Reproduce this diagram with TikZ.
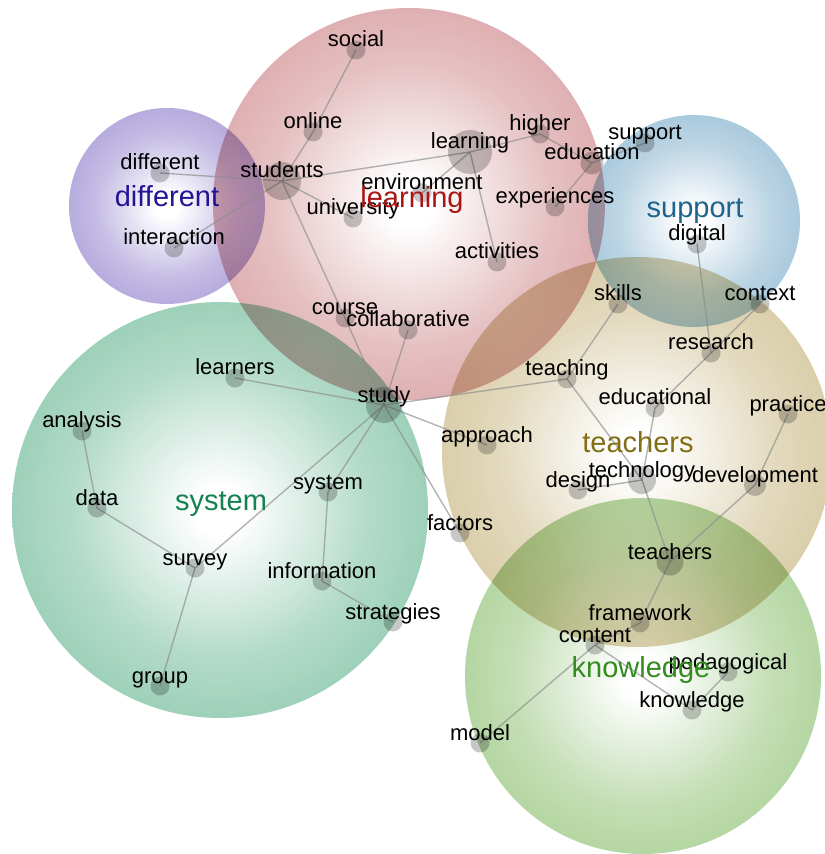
\documentclass[tikz,border=0pt]{standalone}
\usepackage{fontspec}
\setmainfont{Liberation Sans}

\pgfdeclarelayer{bubbles}
\pgfdeclarelayer{links}
\pgfsetlayers{bubbles,links,main}

\definecolor{diffc}{RGB}{122,102,194}
\definecolor{learnc}{RGB}{196,110,114}
\definecolor{suppc}{RGB}{100,158,194}
\definecolor{teachc}{RGB}{188,166,100}
\definecolor{sysc}{RGB}{76,170,128}
\definecolor{knowc}{RGB}{118,180,84}
\definecolor{diffT}{RGB}{35,20,150}
\definecolor{learnT}{RGB}{170,20,20}
\definecolor{suppT}{RGB}{30,100,140}
\definecolor{teachT}{RGB}{130,110,20}
\definecolor{sysT}{RGB}{20,130,80}
\definecolor{knowT}{RGB}{50,140,30}

\colorlet{bubblecol}{white}
\pgfdeclareradialshading[bubblecol]{bubble}{\pgfpoint{0bp}{0bp}}{color(0bp)=(white); color(3bp)=(white); color(18bp)=(bubblecol!50!white); color(36bp)=(bubblecol!85!white); color(50bp)=(bubblecol)}

\begin{document}
\begin{tikzpicture}
        [x=0.5pt,y=-0.5pt]
            \tikzstyle{dot}=[circle, fill=black, fill opacity=0.22,
        inner sep=0pt, minimum size=9.5pt]
            \tikzstyle{wordlbl}=[font=\fontsize{11}{13}\selectfont, fill=none,
        opacity=1, text=black, inner sep=0pt, text height=8pt, text depth=0pt, yshift=5.5pt]
            \tikzstyle{topic}=[anchor=base, inner sep=0pt, font=\fontsize{14.5}{17}\selectfont]
            \tikzstyle{link}=[draw=black!45, line width=0.7pt, opacity=0.65]
        \useasboundingbox (0,0) rectangle (824,854);

        %-----learning
         \node[dot, label={[wordlbl]center:social}]  (social) at (356,50) {};
         \node[dot, label={[wordlbl]center:online}]  (online) at (313,132) {};
         \node[dot, minimum size=19pt, label={[wordlbl]center:students}]  (students) at (282,181) {};
         \node[dot, label={[wordlbl]center:university}]  (university) at (353,218) {};
         \node[dot, label={[wordlbl]center:environment}]  (environment) at (422,193) {};
         \node[dot, minimum size=22pt, label={[wordlbl]center:learning}]  (learning) at (470,152) {};
         \node[dot, label={[wordlbl]center:higher}]  (higher) at (540,134) {};
         \node[dot, minimum size=11.5pt, label={[wordlbl]center:education}]  (education) at (592,163) {};
         \node[dot, label={[wordlbl]center:experiences}]  (experiences) at (555,207) {};
         \node[dot, label={[wordlbl]center:activities}]  (activities) at (497,262) {};
         \node[dot, label={[wordlbl]center:course}]  (course) at (345,318) {};
         \node[dot, label={[wordlbl]center:collaborative}]  (collaborative) at (408,330) {};
        %-----different
         \node[dot, label={[wordlbl]center:different}]  (different) at (160,173) {};
         \node[dot, label={[wordlbl]center:interaction}]  (interaction) at (174,248) {};
        %-----support
         \node[dot, label={[wordlbl]center:support}]  (support) at (645,143) {};
         \node[dot, label={[wordlbl]center:digital}]  (digital) at (697,244) {};
         \node[dot, label={[wordlbl]center:context}]  (context) at (760,304) {};
        %-----teachers
         \node[dot, label={[wordlbl]center:skills}]  (skills) at (618,304) {};
         \node[dot, label={[wordlbl]center:research}]  (research) at (711,353) {};
         \node[dot, label={[wordlbl]center:teaching}]  (teaching) at (567,379) {};
         \node[dot, label={[wordlbl]center:educational}]  (educational) at (655,408) {};
         \node[dot, label={[wordlbl]center:practice}]  (practice) at (788,414) {};
         \node[dot, label={[wordlbl]center:approach}]  (approach) at (487,445) {};
         \node[dot, minimum size=14pt, label={[wordlbl]center:technology}]  (technology) at (642,480) {};
         \node[dot, label={[wordlbl]center:design}]  (design) at (578,490) {};
         \node[dot, minimum size=11pt, label={[wordlbl]center:development}]  (development) at (755,485) {};
         \node[dot, label={[wordlbl]center:factors}]  (factors) at (460,533) {};
         \node[dot, minimum size=13.5pt, label={[wordlbl]center:teachers}]  (teachers) at (670,562) {};
        %-----system
         \node[dot, label={[wordlbl]center:learners}]  (learners) at (235,378) {};
         \node[dot, minimum size=18pt, label={[wordlbl]center:study}]  (study) at (384,405) {};
         \node[dot, label={[wordlbl]center:analysis}]  (analysis) at (82,431) {};
         \node[dot, label={[wordlbl]center:data}]  (data) at (97,508) {};
         \node[dot, label={[wordlbl]center:system}]  (system) at (328,492) {};
         \node[dot, label={[wordlbl]center:survey}]  (survey) at (195,568) {};
         \node[dot, label={[wordlbl]center:information}]  (information) at (322,581) {};
         \node[dot, label={[wordlbl]center:strategies}]  (strategies) at (393,622) {};
         \node[dot, label={[wordlbl]center:group}]  (group) at (160,686) {};
        %-----knowledge
         \node[dot, label={[wordlbl]center:framework}]  (framework) at (640,623) {};
         \node[dot, label={[wordlbl]center:content}]  (content) at (595,645) {};
         \node[dot, label={[wordlbl]center:pedagogical}]  (pedagogical) at (728,672) {};
         \node[dot, label={[wordlbl]center:knowledge}]  (knowledge) at (692,710) {};
         \node[dot, label={[wordlbl]center:model}]  (model) at (480,743) {};

         % cluster names
         \node[topic, text=diffT]  (Cdifferent) at (167,207) {different};
         \node[topic, text=learnT]  (Clearning) at (412,208) {learning};
         \node[topic, text=suppT]  (Csupport) at (695,218) {support};
         \node[topic, text=teachT]  (Cteachers) at (638,452) {teachers};
         \node[topic, text=sysT]  (Csystem) at (221,510) {system};
         \node[topic, text=knowT]  (Cknowledge) at (641,677) {knowledge};

         \begin{pgfonlayer}{bubbles}
         \fill[white] (0,0) rectangle (824,854);
         \foreach \x/\y/\r/\c in {220/510/104/sysc,167/206/49/diffc,409/204/98/learnc,637/452/97.5/teachc,643/676/89/knowc,694/221/53/suppc}
         {\colorlet{bubblecol}{\c}
          \shade[shading=bubble, opacity=.85, blend mode=multiply] (\x,\y) circle[radius=\r pt];}
         \end{pgfonlayer}

         \begin{pgfonlayer}{links}
         \foreach \from/\to in {social/online,online/students,different/students,interaction/students,students/university,students/learning,students/course,course/study,learning/higher,learning/environment,learning/activities,higher/education,education/support,education/experiences,study/collaborative,study/learners,study/teaching,study/approach,study/factors,study/system,study/survey,system/information,information/strategies,analysis/data,data/survey,survey/group,teaching/skills,teaching/technology,digital/research,context/research,research/educational,educational/technology,design/technology,technology/teachers,practice/development,development/teachers,teachers/framework,framework/content,content/model,content/knowledge,knowledge/pedagogical}
         \draw[link] (\from.center) -- (\to.center);
         \end{pgfonlayer}
        \end{tikzpicture}
\end{document}
